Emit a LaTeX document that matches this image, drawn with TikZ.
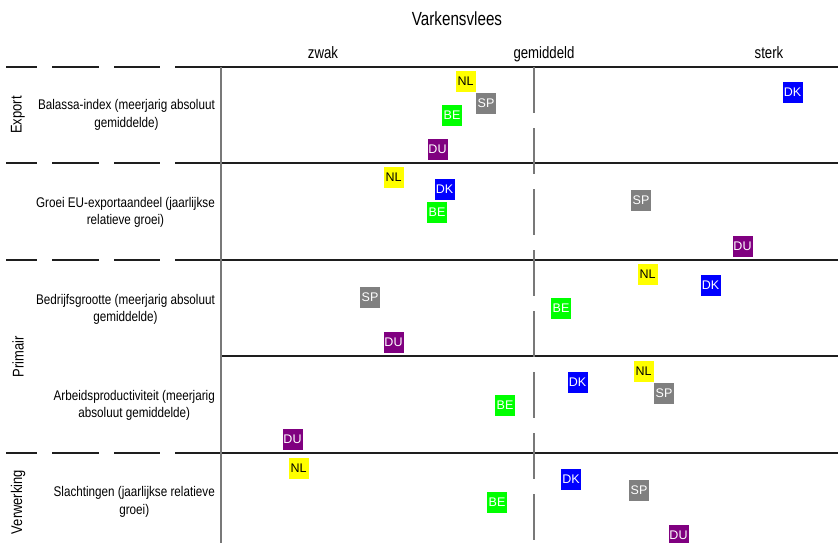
\documentclass[tikz,border=0pt]{standalone}
\usepackage{fontspec}
\setmainfont{Liberation Sans}[FakeStretch=0.8]
\newfontfamily\labelfont{Liberation Sans}[FakeStretch=0.835]
\newfontfamily\landfont{Liberation Sans}
\usepackage{tikz}
\usepackage{xcolor}
\definecolor{vkyellow}{RGB}{255,255,0}
\definecolor{vkblue}{RGB}{0,0,255}
\definecolor{vkgreen}{RGB}{0,255,0}
\definecolor{vkgray}{RGB}{128,128,128}
\definecolor{vkpurple}{RGB}{128,0,128}
\definecolor{vkline}{RGB}{30,30,30}
\definecolor{vkaxis}{RGB}{120,120,120}
\tikzstyle{land} = [rectangle, minimum width=20pt, minimum height=21pt, inner sep=0pt, text=white, font=\landfont\fontsize{12.5}{13}\selectfont]
\tikzstyle{rowlabel} = [align=center, anchor=east, inner sep=0pt, font=\labelfont\fontsize{14}{17.5}\selectfont]
\tikzstyle{grouplabel} = [rotate=90, inner sep=0pt, font=\labelfont\fontsize{15.5}{18}\selectfont]
\tikzstyle{colhead} = [anchor=base, inner sep=0pt, font=\fontsize{16.5}{20}\selectfont]
\tikzstyle{gridline} = [line width=1.2pt, color=vkline]
\tikzstyle{leftdash} = [gridline, dash pattern=on 31pt off 15pt on 47pt off 15pt on 46pt off 15pt on 46pt]
\tikzstyle{midline} = [line width=2pt, color=vkaxis, dash pattern=on 46pt off 15pt]

\begin{document}
\begin{tikzpicture}[x=1pt, y=-1pt]
\useasboundingbox (0,0) rectangle (838,543);

% Title and scale
\node[anchor=base, inner sep=0pt, font=\fontsize{19}{22}\selectfont] (title) at (457,26) {Varkensvlees};
\node[colhead] (zwak) at (323,59) {zwak};
\node[colhead] (gem) at (544,59) {gemiddeld};
\node[colhead] (sterk) at (769,59) {sterk};

% Grid
\foreach \y in {67,163,260,453}
  \draw[leftdash] (6,\y) -- (221,\y);
\foreach \y in {67,163,260,356,453}
  \draw[gridline] (221,\y) -- (838,\y);
\draw[line width=1.2pt, color=vkaxis] (221,67) -- (221,543);
\draw[midline] (534,67) -- (534,543);

% Groups
\node[grouplabel] (export) at (18,115) {Export};
\node[grouplabel] (primair) at (18,357) {Primair};
\node[grouplabel] (verwerking) at (18,502) {Verwerking};

% Indicators
\node[rowlabel] (balassa) at (215,115) {Balassa-index (meerjarig absoluut\\gemiddelde)};
\node[rowlabel] (groei) at (215,212.5) {Groei EU-exportaandeel (jaarlijkse\\relatieve groei)};
\node[rowlabel] (bedrijf) at (215,309.5) {Bedrijfsgrootte (meerjarig absoluut\\gemiddelde)};
\node[rowlabel] (arbeid) at (215,405.5) {Arbeidsproductiviteit (meerjarig\\absoluut gemiddelde)};
\node[rowlabel] (slacht) at (215,502) {Slachtingen (jaarlijkse relatieve\\groei)};

% Export
\node[land, fill=vkyellow, text=black] (nl1) at (465.5,81.5) {NL};
\node[land, fill=vkgray] (sp1) at (486,103.5) {SP};
\node[land, fill=vkgreen] (be1) at (452,115.5) {BE};
\node[land, fill=vkpurple] (du1) at (437.5,149.5) {DU};
\node[land, fill=vkblue] (dk1) at (792.5,92.5) {DK};

% Groei EU-exportaandeel
\node[land, fill=vkyellow, text=black] (nl2) at (393.5,177.5) {NL};
\node[land, fill=vkblue] (dk2) at (444.5,189.5) {DK};
\node[land, fill=vkgreen] (be2) at (437,212.5) {BE};
\node[land, fill=vkgray] (sp2) at (641,200.5) {SP};
\node[land, fill=vkpurple] (du2) at (742.5,246.5) {DU};

% Bedrijfsgrootte
\node[land, fill=vkyellow, text=black] (nl3) at (647.5,274.5) {NL};
\node[land, fill=vkblue] (dk3) at (710.5,285.5) {DK};
\node[land, fill=vkgreen] (be3) at (561,308.5) {BE};
\node[land, fill=vkgray] (sp3) at (370,297.5) {SP};
\node[land, fill=vkpurple] (du3) at (393.5,342.5) {DU};

% Arbeidsproductiviteit
\node[land, fill=vkyellow, text=black] (nl4) at (643.5,371.5) {NL};
\node[land, fill=vkgray] (sp4) at (664,393.5) {SP};
\node[land, fill=vkblue] (dk4) at (577.5,382.5) {DK};
\node[land, fill=vkgreen] (be4) at (505,405.5) {BE};
\node[land, fill=vkpurple] (du4) at (292.5,439.5) {DU};

% Slachtingen
\node[land, fill=vkyellow, text=black] (nl5) at (298.5,468) {NL};
\node[land, fill=vkblue] (dk5) at (571,479.5) {DK};
\node[land, fill=vkgray] (sp5) at (639,490.5) {SP};
\node[land, fill=vkgreen] (be5) at (497,502.5) {BE};
\node[land, fill=vkpurple] (du5) at (678.5,535) {DU};
\end{tikzpicture}
\end{document}
